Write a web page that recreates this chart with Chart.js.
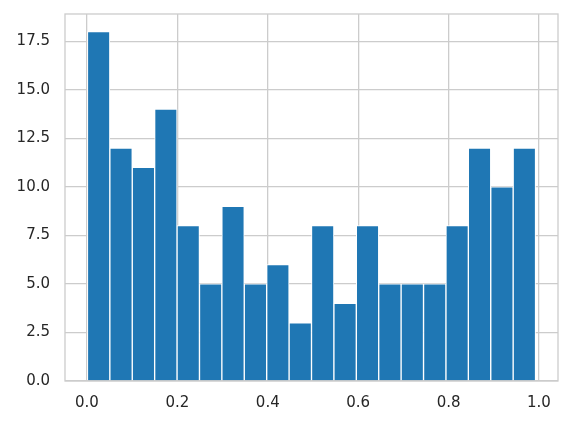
<!DOCTYPE html>
<html>
<head>
<meta charset="utf-8">
<script src="https://cdn.jsdelivr.net/npm/chart.js@4"></script>
<style>
  html, body { margin: 0; padding: 0; background: #fff; }
  #wrap { width: 573px; height: 426px; }
</style>
</head>
<body>
<div id="wrap"><canvas id="histChart" width="573" height="426"></canvas></div>
<script>
// bin centres (20 bins between ~0.001 and ~0.9925)
const binCenters = [0.0258, 0.0754, 0.1250, 0.1745, 0.2241, 0.2737, 0.3232, 0.3728, 0.4224, 0.4720,
                    0.5215, 0.5711, 0.6207, 0.6702, 0.7198, 0.7694, 0.8190, 0.8685, 0.9181, 0.9677];
// counts per bin
const counts = [18, 12, 11, 14, 8, 5, 9, 5, 6, 3, 8, 4, 8, 5, 5, 5, 8, 12, 10, 12];
// tick labels
const xTicks = [0.0, 0.2, 0.4, 0.6, 0.8, 1.0];
const yTicks = [0, 2.5, 5, 7.5, 10, 12.5, 15, 17.5];

const gridColor = '#cccccc';
const textColor = '#262626';

// frame on all four sides (like the matplotlib spines)
const framePlugin = {
    id: 'frame',
    afterDraw(chart) {
        const a = chart.chartArea;
        const ctx = chart.ctx;
        ctx.save();
        ctx.strokeStyle = gridColor;
        ctx.lineWidth = 1.3;
        ctx.strokeRect(a.left, a.top, a.right - a.left, a.bottom - a.top);
        ctx.restore();
    }
};

window.onload = function() {
    const ctx = document.getElementById('histChart').getContext('2d');
    new Chart(ctx, {
        type: 'bar',
        data: {
            datasets: [{
                data: binCenters.map((x, i) => ({ x: x, y: counts[i] })),
                backgroundColor: '#1f77b4',
                borderColor: '#ffffff',
                borderWidth: 1,
                borderSkipped: 'start',
                barPercentage: 1,
                categoryPercentage: 1
            }]
        },
        options: {
            responsive: false,
            animation: false,
            layout: { padding: { top: 14, right: 15, left: 0, bottom: 0 } },
            plugins: { legend: { display: false }, tooltip: { enabled: false } },
            scales: {
                x: {
                    type: 'linear',
                    offset: false,
                    min: -0.0486,
                    max: 1.0421,
                    afterBuildTicks: s => { s.ticks = xTicks.map(v => ({ value: v })); },
                    afterFit: s => { s.height = 45; s.paddingLeft = 0; s.paddingRight = 0; },
                    grid: { color: gridColor, lineWidth: 1.3, drawTicks: false, offset: false },
                    border: { display: false },
                    ticks: {
                        color: textColor,
                        font: { family: 'DejaVu Sans', size: 15 },
                        padding: 13,
                        maxRotation: 0,
                        callback: v => v.toFixed(1)
                    }
                },
                y: {
                    min: 0,
                    max: 18.9,
                    afterBuildTicks: s => { s.ticks = yTicks.map(v => ({ value: v })); },
                    afterFit: s => { s.width = 65; s.paddingTop = 0; s.paddingBottom = 0; },
                    grid: { color: gridColor, lineWidth: 1.3, drawTicks: false },
                    border: { display: false },
                    ticks: {
                        color: textColor,
                        font: { family: 'DejaVu Sans', size: 15 },
                        padding: 15,
                        callback: v => v.toFixed(1)
                    }
                }
            }
        },
        plugins: [framePlugin]
    });
};
</script>
</body>
</html>
